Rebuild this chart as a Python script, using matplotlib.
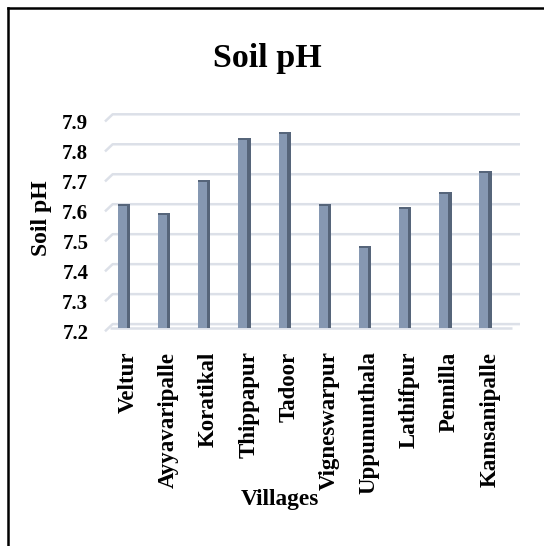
import numpy as np
import matplotlib
matplotlib.use("Agg")
import matplotlib.pyplot as plt
import matplotlib.transforms as mtransforms
from matplotlib.lines import Line2D

# data
villages = ["Veltur", "Ayyavaripalle", "Koratikal", "Thippapur", "Tadoor",
            "Vigneswarpur", "Uppununthala", "Lathifpur", "Pennilla", "Kamsanipalle"]
soil_ph = [7.60, 7.57, 7.68, 7.82, 7.84, 7.60, 7.46, 7.59, 7.64, 7.71]
y_ticks = [7.2, 7.3, 7.4, 7.5, 7.6, 7.7, 7.8, 7.9]

plt.rcParams['font.family'] = ['Liberation Serif', 'DejaVu Serif']
plt.rcParams['font.weight'] = 'bold'

W, H = 544, 546
fig = plt.figure(figsize=(W / 100, H / 100), dpi=100)
fig.patch.set_facecolor("white")
ax = fig.add_axes([105 / W, 1 - 328 / H, (520 - 105) / W, (328 - 114.3) / H])

x = np.arange(len(villages))
front_w = 0.22
side_w = 0.09
floor = 7.187

# gridlines with a small slant at the left (fake 3d wall)
for v in y_ticks:
    ax.plot([-0.43, -0.24, 9.9], [v - 0.024, v, v], color="#DCE0E8", lw=1.8,
            zorder=1, solid_capstyle="butt", clip_on=False)
# front edge of the floor
ax.plot([-0.3, 9.7], [floor, floor], color="#DCE0E8", lw=1.8, zorder=1,
        solid_capstyle="butt", clip_on=False)

# side face (darker), front face, dark top edge
ax.bar(x + front_w / 2 + side_w / 2 - 0.005, [v - floor for v in soil_ph],
       bottom=floor, width=side_w, color="#56657A", zorder=2, clip_on=False)
ax.bar(x, [v - floor - 0.004 for v in soil_ph], bottom=floor, width=front_w,
       color="#8698B2", zorder=3, clip_on=False)
ax.bar(x + 0.04, [0.006] * len(x), bottom=[v - 0.006 for v in soil_ph],
       width=front_w + 0.08, color="#56657A", zorder=4)

ax.set_xlim(-0.43, 9.9)
ax.set_ylim(floor, 7.9)
ax.set_yticks(y_ticks)
ax.set_yticklabels(["%.1f" % v for v in y_ticks])
ax.set_xticks(x)
ax.set_xticklabels(villages, rotation=90, va="top", ha="center")
for s in ax.spines.values():
    s.set_visible(False)
ax.tick_params(axis="both", length=0)
ax.tick_params(axis="y", labelsize=15, pad=12)
ax.tick_params(axis="x", labelsize=16.5, pad=17)

off_x = mtransforms.ScaledTranslation(6 / 100, 0, fig.dpi_scale_trans)
for lab in ax.get_xticklabels():
    lab.set_transform(lab.get_transform() + off_x)
off_y = mtransforms.ScaledTranslation(0, -7.5 / 100, fig.dpi_scale_trans)
for lab in ax.get_yticklabels():
    lab.set_transform(lab.get_transform() + off_y)

fig.text(267 / W, 1 - 58 / H, "Soil pH", fontsize=24.5, fontweight="bold",
         ha="center", va="center")
fig.text(41 / W, 1 - 218 / H, "Soil pH", fontsize=17, fontweight="bold",
         ha="center", va="center", rotation=90)
fig.text(280 / W, 1 - 500 / H, "Villages", fontsize=16.8, fontweight="bold",
         ha="center", va="center")

# outer frame (only left and top visible in the crop)
fig.add_artist(Line2D([8 / W, 8 / W], [0, 1 - 8 / H], color="black", lw=1.8,
                      transform=fig.transFigure))
fig.add_artist(Line2D([8 / W, 1], [1 - 8 / H, 1 - 8 / H], color="black", lw=1.8,
                      transform=fig.transFigure))

fig.savefig("out.png", dpi=100)
